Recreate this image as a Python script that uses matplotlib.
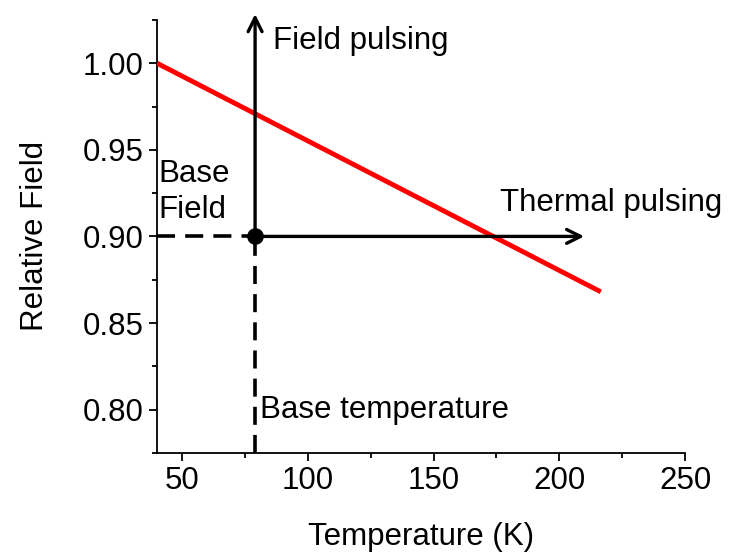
import matplotlib
matplotlib.use("Agg")
import matplotlib.pyplot as plt
from matplotlib.ticker import MultipleLocator

plt.rcParams['font.family'] = ['Liberation Sans', 'DejaVu Sans']

# red line: relative field vs temperature
temp = [40, 216.5]
field = [1.0, 0.868]

base_temp = 79
base_field = 0.90
field_top = 1.03
thermal_end = 211

fs = 22.5

fig = plt.figure(figsize=(7.29, 5.53), dpi=100)
ax = fig.add_axes([0.2154, 0.181, 0.7243, 0.783])

ax.plot(temp, field, color='red', lw=3.5, solid_capstyle='butt', zorder=3)

# dashed guides
ax.plot([40, base_temp], [base_field, base_field], 'k--', lw=2.6, dashes=(5, 2.8))
ax.plot([base_temp, base_temp], [0.775, base_field], 'k--', lw=2.6, dashes=(5, 2.8))

# arrows
ax.annotate('', xy=(base_temp, field_top), xytext=(base_temp, base_field),
            arrowprops=dict(arrowstyle='->', lw=2.4, color='k', mutation_scale=25),
            annotation_clip=False)
ax.annotate('', xy=(thermal_end, base_field), xytext=(base_temp, base_field),
            arrowprops=dict(arrowstyle='->', lw=2.4, color='k', mutation_scale=25))
ax.plot([base_temp], [base_field], 'ko', ms=11, zorder=4)

ax.text(86, 1.0126, 'Field pulsing', fontsize=fs, va='center', ha='left')
ax.text(176.5, 0.9195, 'Thermal pulsing', fontsize=fs, va='center', ha='left')
ax.text(40.4, 0.9255, 'Base\nField', fontsize=fs, va='center', ha='left', linespacing=1.25)
ax.text(81, 0.800, 'Base temperature', fontsize=fs, va='center', ha='left')

ax.set_xlim(40, 250)
ax.set_ylim(0.775, 1.025)
ax.xaxis.set_major_locator(MultipleLocator(50))
ax.xaxis.set_minor_locator(MultipleLocator(25))
ax.yaxis.set_major_locator(MultipleLocator(0.05))
ax.yaxis.set_minor_locator(MultipleLocator(0.025))
ax.yaxis.set_major_formatter(matplotlib.ticker.FormatStrFormatter('%.2f'))

for s in ['top', 'right']:
    ax.spines[s].set_visible(False)
for s in ['left', 'bottom']:
    ax.spines[s].set_linewidth(1.3)
ax.tick_params(which='major', length=6, width=1.3, labelsize=fs, direction='out')
ax.tick_params(which='minor', length=3.5, width=1.3, direction='out')

ax.set_xlabel('Temperature (K)', fontsize=fs, labelpad=19)
ax.set_ylabel('Relative Field', fontsize=fs, labelpad=24)

fig.savefig('out.png', dpi=100)
